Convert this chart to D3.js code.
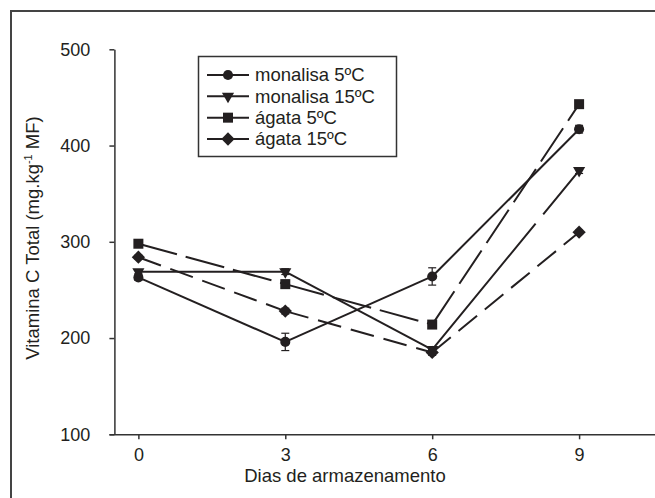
<!DOCTYPE html>
<html>
<head>
<meta charset="utf-8">
<script src="https://cdn.jsdelivr.net/npm/d3@7"></script>
<style>
  body { margin: 0; background: #fff; }
  svg { display: block; font-family: "Liberation Sans", Arial, sans-serif; }
  .axis path, .axis line { stroke: #333; stroke-width: 1.5; }
  .axis text { font-size: 18px; fill: #231f20; font-family: "Liberation Sans", Arial, sans-serif; }
</style>
</head>
<body>
<div id="chart"></div>
<script>
// ---------------------------------------------------------------------------
// Data

const days = [0, 3, 6, 9];
const seriesNames = ['monalisa 5ºC', 'monalisa 15ºC', 'ágata 5ºC', 'ágata 15ºC'];
const monalisa5 = [263, 196, 264, 417];
const monalisa15 = [269, 269, 188, 374];
const agata5 = [298, 256, 214, 443];
const agata15 = [284, 228, 185, 310];
const monalisa5Err = [3, 9, 9, 4];
const monalisa15Err = [2, 3, 3, 3];
const agata5Err = [2, 4, 3, 2];
const agata15Err = [2, 3, 3, 2];
const yTicks = [100, 200, 300, 400, 500];
const xTicks = [0, 3, 6, 9];

// ---------------------------------------------------------------------------
// Setup

const width = 655;
const height = 498;
const ink = '#231f20';

const series = [
  { name: seriesNames[0], values: monalisa5, err: monalisa5Err, shape: 'circle', dash: null },
  { name: seriesNames[1], values: monalisa15, err: monalisa15Err, shape: 'triangle', dash: '163,12' },
  { name: seriesNames[2], values: agata5, err: agata5Err, shape: 'square', dash: '40,9' },
  { name: seriesNames[3], values: agata15, err: agata15Err, shape: 'diamond', dash: '24,10' }
];

const svg = d3.select('#chart')
  .append('svg')
  .attr('width', width)
  .attr('height', height);

// outer frame (only top and left edges fall inside the picture)
svg.append('rect')
  .attr('x', 11).attr('y', 11)
  .attr('width', 700).attr('height', 600)
  .attr('fill', 'none')
  .attr('stroke', '#444')
  .attr('stroke-width', 2);

const x = d3.scaleLinear().domain([-0.6, 10.55]).range([109, 655]);
const y = d3.scaleLinear().domain([100, 500]).range([434.3, 49.3]);

// axes
svg.append('g')
  .attr('class', 'axis')
  .attr('transform', `translate(0,${y(100)})`)
  .call(d3.axisBottom(x).tickValues(xTicks).tickSize(5).tickSizeOuter(0).tickPadding(6))
  .selectAll('text').attr('dy', '0.85em');

svg.append('g')
  .attr('class', 'axis')
  .attr('transform', `translate(${x(-0.5) + 0.5},0)`)
  .call(d3.axisLeft(y).tickValues(yTicks).tickSize(5).tickSizeOuter(0).tickPadding(19));

// axis titles
svg.append('text')
  .attr('x', 345).attr('y', 482)
  .attr('text-anchor', 'middle')
  .attr('font-size', 18.5)
  .attr('fill', ink)
  .text('Dias de armazenamento');

const yTitle = svg.append('text')
  .attr('transform', 'translate(39,238) rotate(-90)')
  .attr('text-anchor', 'middle')
  .attr('font-size', 18.5)
  .attr('fill', ink);
yTitle.append('tspan').text('Vitamina C Total (mg.kg');
yTitle.append('tspan').attr('font-size', 11).attr('dy', -7).text('-1');
yTitle.append('tspan').attr('dy', 7).text(' MF)');

// ---------------------------------------------------------------------------
// Marks

function marker(sel, shape) {
  if (shape === 'circle') {
    sel.attr('d', d3.symbol(d3.symbolCircle, 80)());
  } else if (shape === 'triangle') {
    sel.attr('d', d3.symbol(d3.symbolTriangle, 64)()).attr('data-rot', 180);
  } else if (shape === 'square') {
    sel.attr('d', d3.symbol(d3.symbolSquare, 100)());
  } else {
    sel.attr('d', d3.symbol(d3.symbolSquare, 88)()).attr('data-rot', 45);
  }
}

series.forEach(s => {
  const g = svg.append('g');

  // each segment gets its own dash pattern, as the original plot does
  d3.pairs(s.values.map((v, i) => [x(days[i]), y(v)])).forEach(seg => {
    g.append('path')
      .attr('d', d3.line()(seg))
      .attr('fill', 'none')
      .attr('stroke', ink)
      .attr('stroke-width', 2)
      .attr('stroke-dasharray', s.dash);
  });

  // error bars
  s.values.forEach((v, i) => {
    const cx = x(days[i]);
    const lo = y(v - s.err[i]);
    const hi = y(v + s.err[i]);
    g.append('line')
      .attr('x1', cx).attr('x2', cx).attr('y1', lo).attr('y2', hi)
      .attr('stroke', ink).attr('stroke-width', 1.2);
    [lo, hi].forEach(yy => {
      g.append('line')
        .attr('x1', cx - 4).attr('x2', cx + 4).attr('y1', yy).attr('y2', yy)
        .attr('stroke', ink).attr('stroke-width', 1.2);
    });
  });

  s.values.forEach((v, i) => {
    const p = g.append('path').attr('fill', ink);
    marker(p, s.shape);
    const rot = p.attr('data-rot') || 0;
    p.attr('transform', `translate(${x(days[i])},${y(v)}) rotate(${rot})`);
  });
});

// ---------------------------------------------------------------------------
// Legend

const legend = svg.append('g');
legend.append('rect')
  .attr('x', 198.5).attr('y', 56.5)
  .attr('width', 198).attr('height', 100)
  .attr('fill', '#fff')
  .attr('stroke', '#333')
  .attr('stroke-width', 1.5);

const rowY = d3.scaleLinear().domain([0, 3]).range([75, 139]);

series.forEach((s, i) => {
  const yy = rowY(i);
  legend.append('line')
    .attr('x1', 207).attr('x2', 249).attr('y1', yy).attr('y2', yy)
    .attr('stroke', ink).attr('stroke-width', 2);
  const p = legend.append('path').attr('fill', ink);
  marker(p, s.shape);
  const rot = p.attr('data-rot') || 0;
  p.attr('transform', `translate(228,${yy}) rotate(${rot})`);
  legend.append('text')
    .attr('x', 255).attr('y', yy)
    .attr('dy', '0.35em')
    .attr('font-size', 18.5)
    .attr('fill', ink)
    .text(s.name);
});
</script>
</body>
</html>
